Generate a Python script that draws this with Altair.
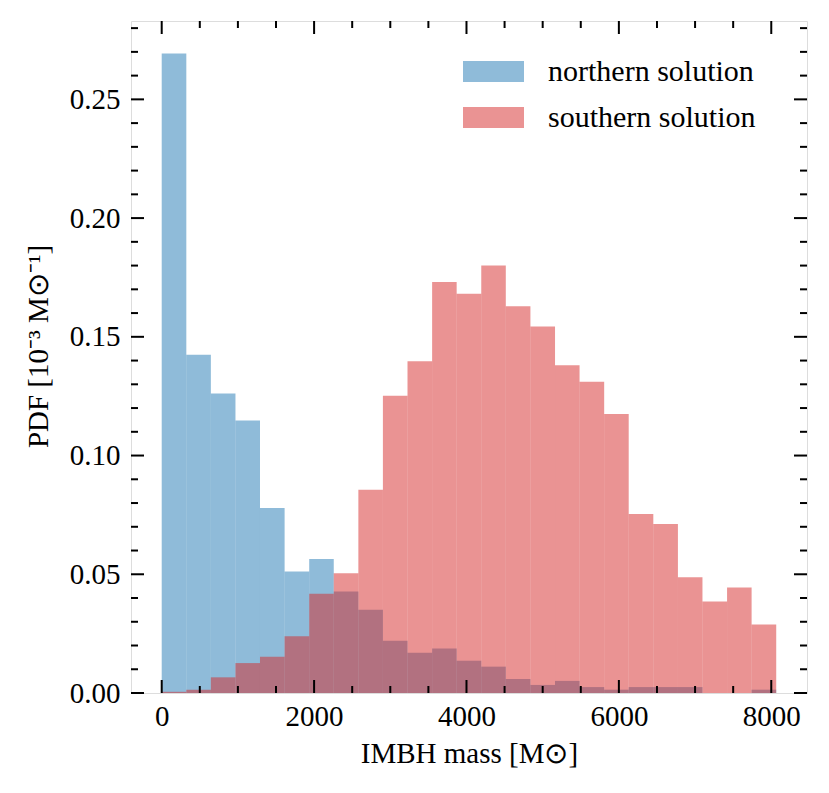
import altair as alt
import pandas as pd

# Bin edges (M_sun) shared by both histograms
bin_edges = [0, 323, 645, 968, 1290, 1613, 1936, 2258, 2581, 2903, 3226, 3549, 3871,
             4194, 4516, 4839, 5162, 5484, 5807, 6129, 6452, 6775, 7097, 7420, 7742, 8065]

northern = [0.2693, 0.1424, 0.1261, 0.1148, 0.0779, 0.0512, 0.0564, 0.0427, 0.0351,
            0.0220, 0.0170, 0.0187, 0.0136, 0.0111, 0.0059, 0.0034, 0.0051, 0.0025,
            0.0014, 0.0025, 0.0025, 0.0025, 0.0, 0.0, 0.0014]
southern = [0.0005, 0.0014, 0.0066, 0.0126, 0.0153, 0.0239, 0.0418, 0.0504, 0.0856,
            0.1252, 0.1397, 0.1731, 0.1681, 0.1800, 0.1629, 0.1543, 0.1380, 0.1311,
            0.1175, 0.0754, 0.0712, 0.0487, 0.0385, 0.0444, 0.0289]

series_names = ["northern solution", "southern solution"]
series_colors = ["#1f77b4", "#d62728"]

x_major = [0, 2000, 4000, 6000, 8000]
x_minor = [500, 1000, 1500, 2500, 3000, 3500, 4500, 5000, 5500, 6500, 7000, 7500]
y_major = [0.0, 0.05, 0.10, 0.15, 0.20, 0.25]
y_minor = [0.01, 0.02, 0.03, 0.04, 0.06, 0.07, 0.08, 0.09, 0.11, 0.12, 0.13, 0.14,
           0.16, 0.17, 0.18, 0.19, 0.21, 0.22, 0.23, 0.24, 0.26, 0.27, 0.28]

rows = []
for name, vals in zip(series_names, [northern, southern]):
    for i, v in enumerate(vals):
        rows.append({"start": bin_edges[i], "end": bin_edges[i + 1], "pdf": v, "series": name})
df = pd.DataFrame(rows)

W, H = 676, 672
FONT = "Liberation Serif"
MAJ, MIN = 13, 7
TW = 2

xs = alt.Scale(domain=[-403, 8469], nice=False, zero=False)
ys = alt.Scale(domain=[0, 0.283], nice=False, zero=False)

bars = alt.Chart(df).mark_rect(opacity=0.5, strokeWidth=0).encode(
    x=alt.X("start:Q", scale=xs,
            axis=alt.Axis(title="IMBH mass [M⊙]", values=x_major, format="d",
                          ticks=False, tickSize=0, domain=False, grid=False,
                          labelFont=FONT, labelFontSize=29, labelColor="black",
                          labelPadding=9, titleFont=FONT, titleFontSize=29,
                          titleFontWeight="normal", titleColor="black",
                          titleBaseline="alphabetic", titleY=69)),
    x2="end:Q",
    y=alt.Y("pdf:Q", scale=ys,
            axis=alt.Axis(title="PDF [10⁻³ M⊙⁻¹]", values=y_major, format=".2f",
                          ticks=False, tickSize=0, domain=False, grid=False,
                          labelFont=FONT, labelFontSize=29, labelColor="black",
                          labelPadding=11, titleFont=FONT, titleFontSize=29,
                          titleFontWeight="normal", titleColor="black",
                          titleBaseline="alphabetic", titleX=-84, titleY=325)),
    y2=alt.datum(0),
    color=alt.Color("series:N",
                    scale=alt.Scale(domain=series_names, range=series_colors),
                    legend=alt.Legend(orient="none", legendX=332, legendY=20, title=None,
                                      symbolType="M-1,-0.344H1V0.344H-1Z",
                                      symbolSize=3721, symbolOpacity=0.5,
                                      symbolStrokeWidth=0, labelFont=FONT,
                                      labelFontSize=30, labelColor="black",
                                      labelLimit=0, labelOffset=24, padding=0,
                                      rowPadding=-3)),
    order=alt.Order("series:N"),
)

def tick_df(vals):
    return pd.DataFrame({"v": vals})

layers = [bars]
for vals, L in [(x_major, MAJ), (x_minor, MIN)]:
    layers.append(alt.Chart(tick_df(vals)).mark_rule(color="black", strokeWidth=TW).encode(
        x=alt.X("v:Q", scale=xs), y=alt.value(H), y2=alt.value(H - L)))
    layers.append(alt.Chart(tick_df(vals)).mark_rule(color="black", strokeWidth=TW).encode(
        x=alt.X("v:Q", scale=xs), y=alt.value(0), y2=alt.value(L)))
for vals, L in [(y_major, MAJ), (y_minor, MIN)]:
    layers.append(alt.Chart(tick_df(vals)).mark_rule(color="black", strokeWidth=TW).encode(
        y=alt.Y("v:Q", scale=ys), x=alt.value(0), x2=alt.value(L)))
    layers.append(alt.Chart(tick_df(vals)).mark_rule(color="black", strokeWidth=TW).encode(
        y=alt.Y("v:Q", scale=ys), x=alt.value(W), x2=alt.value(W - L)))

chart = alt.layer(*layers).properties(
    width=W, height=H,
    autosize=alt.AutoSizeParams(type="none"),
    padding={"left": 123, "top": 13, "right": 14, "bottom": 92},
).configure_view(stroke="black", strokeWidth=2).configure(background="white")

chart.save("out.html", embed_options={"renderer": "svg", "actions": False})
